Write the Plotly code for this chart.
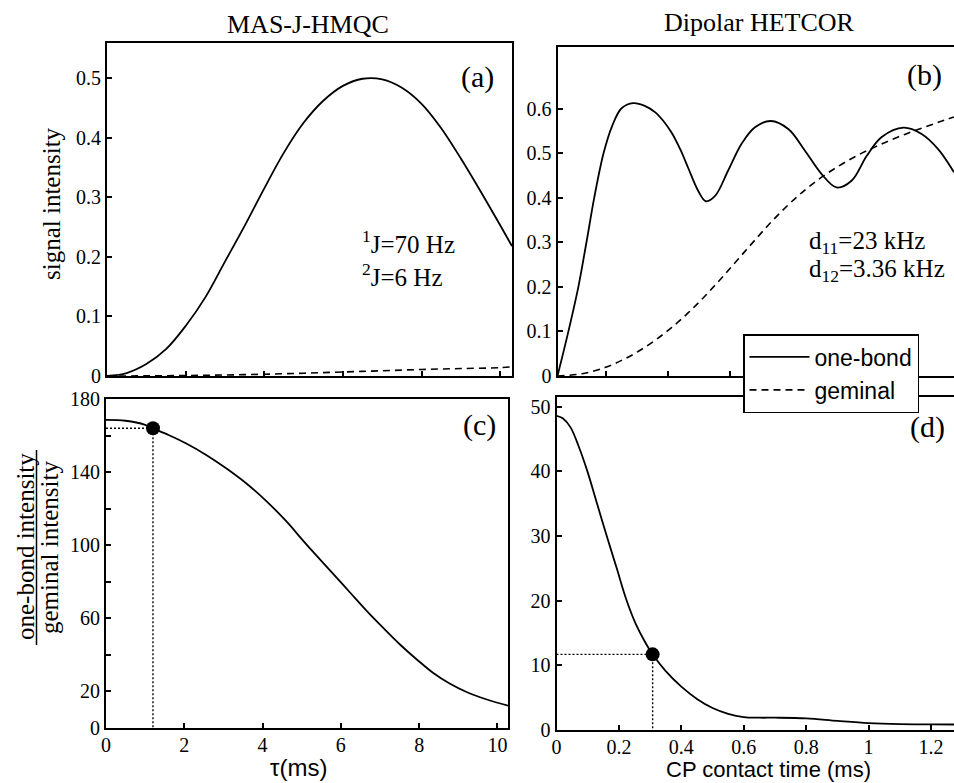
import plotly.graph_objects as go

W, H = 954, 783
SERIF = "Liberation Serif, Times New Roman, serif"
SANS = "Liberation Sans, Arial, sans-serif"

# ---------------- data ----------------
# (a) MAS-J-HMQC signal intensity vs tau (ms)
tau_a = [0, 0.5, 1.0, 1.5, 2.0, 2.5, 3.0, 3.5, 4.0, 4.5, 5.0, 5.5, 6.0, 6.5, 7.0,
         7.5, 8.0, 8.5, 9.0, 9.5, 10.0, 10.3]
a_onebond = [0, 0.005, 0.02, 0.045, 0.084, 0.132, 0.192, 0.252, 0.315, 0.375, 0.425, 0.462,
             0.487, 0.499, 0.498, 0.484, 0.457, 0.416, 0.365, 0.31, 0.253, 0.218]
tau_a_gem = [0, 1, 2, 3, 4, 5, 6, 7, 8, 9, 10, 10.3]
a_geminal = [0, 0.0002, 0.0008, 0.0017, 0.003, 0.0047, 0.0067, 0.0088, 0.011, 0.0125, 0.014, 0.0155]

# (b) Dipolar HETCOR signal intensity vs CP contact time (ms)
cp_b = [0, 0.035, 0.067, 0.093, 0.118, 0.148, 0.175, 0.205, 0.243, 0.28, 0.313, 0.34,
        0.367, 0.395, 0.42, 0.452, 0.476, 0.506, 0.548, 0.591, 0.634, 0.685, 0.741, 0.794,
        0.848, 0.896, 0.944, 0.993, 1.041, 1.111, 1.169, 1.222, 1.273]
b_onebond = [0, 0.1, 0.2, 0.3, 0.4, 0.5, 0.56, 0.6, 0.612, 0.606, 0.592, 0.572,
             0.545, 0.507, 0.466, 0.415, 0.392, 0.404, 0.461, 0.521, 0.558, 0.572, 0.554, 0.506,
             0.453, 0.423, 0.438, 0.494, 0.536, 0.557, 0.543, 0.509, 0.457]
cp_b_gem = [0, 0.078, 0.152, 0.206, 0.259, 0.313, 0.367, 0.42, 0.473, 0.527, 0.581, 0.634,
            0.687, 0.741, 0.794, 0.848, 0.901, 0.955, 1.008, 1.062, 1.115, 1.169, 1.222, 1.273]
b_geminal = [0, 0.005, 0.019, 0.035, 0.055, 0.080, 0.109, 0.142, 0.179, 0.22, 0.263, 0.305,
             0.346, 0.384, 0.417, 0.446, 0.47, 0.492, 0.51, 0.527, 0.542, 0.556, 0.569, 0.581]

# (c) ratio one-bond / geminal vs tau (ms)
tau_c = [0, 0.5, 1.0, 1.2, 1.6, 2.04, 2.56, 3.07, 3.58, 4.09, 4.61, 5.04, 5.42, 5.81, 6.24,
         6.66, 7.09, 7.51, 7.94, 8.36, 8.79, 9.21, 9.73, 10.27]
c_ratio = [168.6, 168.1, 165.9, 164.0, 160.3, 155.8, 149.4, 142.1, 133.9, 124.3, 113.0, 102.4,
           93.3, 84.2, 74.0, 64.1, 54.6, 45.7, 37.5, 30.1, 24.2, 19.7, 15.6, 12.2]
c_dot = (1.2, 164.0)

# (d) ratio one-bond / geminal vs CP contact time (ms)
cp_d = [0, 0.02, 0.045, 0.07, 0.099, 0.13, 0.161, 0.193, 0.225, 0.255, 0.285, 0.308, 0.35,
        0.40, 0.45, 0.50, 0.55, 0.60, 0.65, 0.70, 0.80, 0.90, 1.00, 1.10, 1.20, 1.274]
d_ratio = [48.6, 48.2, 46.8, 44.0, 40.0, 35.0, 30.0, 25.0, 20.0, 16.3, 13.5, 11.7, 9.1,
           6.7, 4.8, 3.4, 2.5, 2.0, 1.9, 1.9, 1.8, 1.4, 1.05, 0.9, 0.87, 0.85]
d_dot = (0.308, 11.7)

# tick definitions
a_yticks = [0, 0.1, 0.2, 0.3, 0.4, 0.5]
a_xticks = [2, 4, 6, 8, 10]
b_yticks = [0, 0.1, 0.2, 0.3, 0.4, 0.5, 0.6]
b_xticks = [0.155, 0.355, 0.555, 0.755, 0.955, 1.155]
c_xticks = [0, 2, 4, 6, 8, 10]
c_yticks = [0, 20, 60, 100, 140, 180]
c_yminor = [40, 80, 120, 160]
d_xticks = [0, 0.2, 0.4, 0.6, 0.8, 1.0, 1.2]
d_xticktext = ["0", "0.2", "0.4", "0.6", "0.8", "1", "1.2"]
d_yticks = [0, 10, 20, 30, 40, 50]


def px(x):
    return x / W


def py(y):
    return 1 - y / H


line_solid = dict(color="black", width=1.8)
line_dash = dict(color="black", width=1.6, dash="7px,5px")
line_dot = dict(color="black", width=1.4, dash="2px,2px")

fig = go.Figure()
# (a)
fig.add_trace(go.Scatter(x=tau_a, y=a_onebond, mode="lines", line=line_solid,
                         xaxis="x", yaxis="y", showlegend=False, line_shape="spline"))
fig.add_trace(go.Scatter(x=tau_a_gem, y=a_geminal, mode="lines", line=line_dash,
                         xaxis="x", yaxis="y", showlegend=False, line_shape="spline"))
# (b)
fig.add_trace(go.Scatter(x=cp_b, y=b_onebond, mode="lines", line=line_solid, name="one-bond",
                         xaxis="x2", yaxis="y2", line_shape="spline"))
fig.add_trace(go.Scatter(x=cp_b_gem, y=b_geminal, mode="lines", line=line_dash, name="geminal",
                         xaxis="x2", yaxis="y2", line_shape="spline"))
# (c)
fig.add_trace(go.Scatter(x=[0, c_dot[0], c_dot[0]], y=[c_dot[1], c_dot[1], 0], mode="lines",
                         line=line_dot, xaxis="x3", yaxis="y3", showlegend=False))
fig.add_trace(go.Scatter(x=tau_c, y=c_ratio, mode="lines", line=line_solid,
                         xaxis="x3", yaxis="y3", showlegend=False, line_shape="spline"))
fig.add_trace(go.Scatter(x=[c_dot[0]], y=[c_dot[1]], mode="markers",
                         marker=dict(color="black", size=14), xaxis="x3", yaxis="y3",
                         showlegend=False))
# (d)
fig.add_trace(go.Scatter(x=[0, d_dot[0], d_dot[0]], y=[d_dot[1], d_dot[1], 0], mode="lines",
                         line=line_dot, xaxis="x4", yaxis="y4", showlegend=False))
fig.add_trace(go.Scatter(x=cp_d, y=d_ratio, mode="lines", line=line_solid,
                         xaxis="x4", yaxis="y4", showlegend=False, line_shape="spline"))
fig.add_trace(go.Scatter(x=[d_dot[0]], y=[d_dot[1]], mode="markers",
                         marker=dict(color="black", size=14), xaxis="x4", yaxis="y4",
                         showlegend=False))

common = dict(showline=True, linecolor="black", linewidth=2, ticks="inside", ticklen=5,
              tickwidth=1.5, tickcolor="black", showgrid=False, zeroline=False,
              automargin=False,
              tickfont=dict(family=SERIF, size=20, color="black"))

fig.update_layout(
    width=W, height=H, margin=dict(l=0, r=0, t=0, b=0, pad=0, autoexpand=False),
    paper_bgcolor="white", plot_bgcolor="white",
    xaxis=dict(common, domain=[px(107), px(512)], range=[0, 10.3], anchor="y",
               tickvals=a_xticks, showticklabels=False, mirror=True),
    yaxis=dict(common, domain=[py(376), py(43)], range=[0, 0.559], anchor="x",
               tickvals=a_yticks, mirror=True),
    xaxis2=dict(common, domain=[px(557.5), 1.0], range=[0, 1.273], anchor="y2",
                tickvals=b_xticks, showticklabels=False, mirror=True),
    yaxis2=dict(common, domain=[py(376), py(47)], range=[0, 0.738], anchor="x2",
                tickvals=b_yticks, mirror=False),
    xaxis3=dict(common, domain=[px(106), px(508)], range=[0, 10.27], anchor="y3",
                tickvals=c_xticks, mirror=True, ticklabelstandoff=-2),
    yaxis3=dict(common, domain=[py(728), py(399)], range=[0, 180], anchor="x3",
                tickvals=c_yticks, mirror=True,
                minor=dict(tickmode="array", tickvals=c_yminor, ticks="inside", ticklen=5,
                           tickwidth=1.5, tickcolor="black", showgrid=False)),
    xaxis4=dict(common, domain=[px(556.5), 1.0], range=[0, 1.2736], anchor="y4",
                tickvals=d_xticks, ticktext=d_xticktext, mirror=True, ticklabelstandoff=-2),
    yaxis4=dict(common, domain=[py(730), py(397)], range=[0, 51.5], anchor="x4",
                tickvals=d_yticks, mirror=False),
    legend=dict(x=px(743), y=py(334), xanchor="left", yanchor="top",
                bgcolor="white", bordercolor="black", borderwidth=1.5,
                font=dict(family=SANS, size=23, color="black"),
                itemwidth=60, tracegroupgap=0),
    showlegend=True,
)


def ann(text, x, y, size, family=SERIF, angle=0, xanchor="center"):
    fig.add_annotation(text=text, x=px(x), y=py(y), xref="paper", yref="paper",
                       showarrow=False, textangle=angle, xanchor=xanchor, yanchor="middle",
                       font=dict(family=family, size=size, color="black"))


ann("MAS-J-HMQC", 308, 25, 26)
ann("Dipolar HETCOR", 759, 22, 26)
ann("signal intensity", 52, 204, 25, angle=-90)
ann("one-bond intensity", 25, 547, 25, angle=-90)
ann("geminal intensity", 49, 548, 25, angle=-90)
ann("<sup>1</sup>J=70 Hz", 360, 242, 25, xanchor="left")
ann("<sup>2</sup>J=6 Hz", 360, 275, 25, xanchor="left")
ann("d<sub>11</sub>=23 kHz", 807, 243, 25, xanchor="left")
ann("d<sub>12</sub>=3.36 kHz", 807, 270, 25, xanchor="left")
ann("(a)", 478, 77, 30)
ann("(b)", 924, 75, 30)
ann("(c)", 479, 425, 30)
ann("(d)", 927, 427, 30)
ann("τ(ms)", 298, 767, 24, family=SANS)
ann("CP contact time (ms)", 768, 769, 22, family=SANS)

# fraction bar of the (c) y-axis label
fig.add_shape(type="line", xref="paper", yref="paper", x0=px(36.5), x1=px(36.5),
              y0=py(450), y1=py(645), line=dict(color="black", width=1.5))

fig.write_html("out.html", config={"displayModeBar": False},
               post_script="document.body.style.margin='0px';document.body.style.overflow='hidden';")
